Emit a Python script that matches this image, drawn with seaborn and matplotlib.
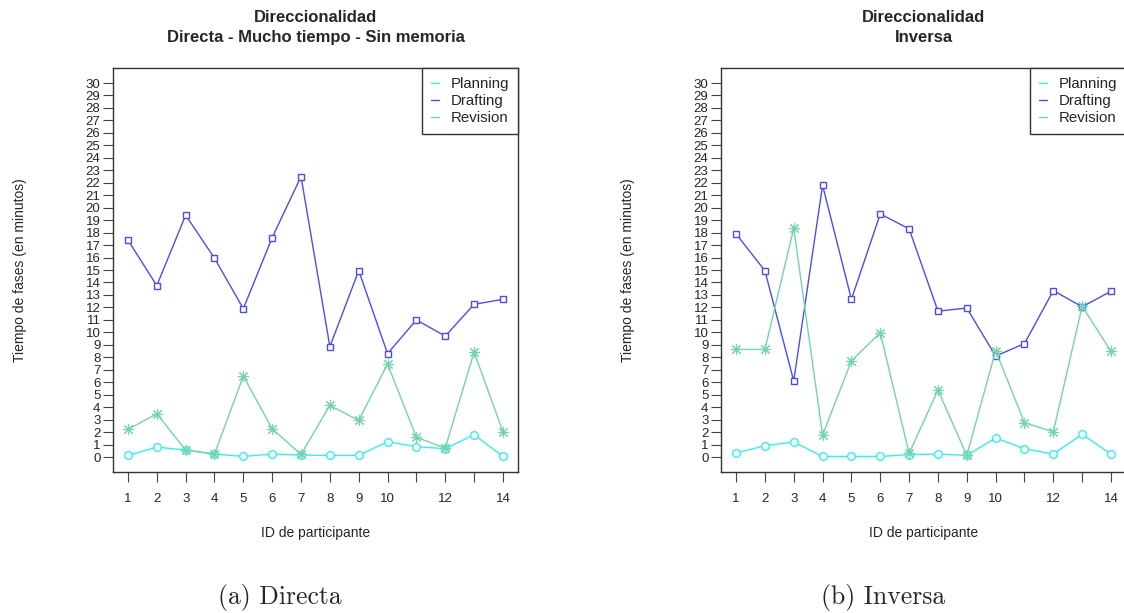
import numpy as np
import pandas as pd

import matplotlib
matplotlib.use("Agg")
import matplotlib.pyplot as plt
from matplotlib.lines import Line2D
import seaborn as sns

participants = list(range(1, 15))
x_tick_labels = ["1", "2", "3", "4", "5", "6", "7", "8", "9", "10", "", "12", "", "14"]

# (a) Directa
directa_planning = [0.13, 0.80, 0.56, 0.24, 0.05, 0.24, 0.16, 0.13, 0.13, 1.23, 0.83, 0.67, 1.79, 0.05]
directa_drafting = [17.4, 13.75, 19.4, 15.95, 11.9, 17.6, 22.5, 8.85, 14.95, 8.3, 11.0, 9.7, 12.25, 12.65]
directa_revision = [2.22, 3.47, 0.56, 0.24, 6.5, 2.27, 0.21, 4.14, 2.94, 7.46, 1.58, 0.72, 8.42, 2.03]

# (b) Inversa
inversa_planning = [0.32, 0.91, 1.2, 0.05, 0.05, 0.05, 0.19, 0.24, 0.13, 1.52, 0.67, 0.24, 1.82, 0.24]
inversa_drafting = [17.9, 14.95, 6.1, 21.8, 12.65, 19.5, 18.3, 11.7, 11.95, 8.1, 9.1, 13.35, 12.05, 13.3]
inversa_revision = [8.63, 8.63, 18.35, 1.76, 7.72, 9.97, 0.29, 5.37, 0.13, 8.53, 2.75, 2.03, 12.1, 8.47]

series_names = ["Planning", "Drafting", "Revision"]
series_colors = {"Planning": "#33F0F0", "Drafting": "#4C4CF2", "Revision": "#72D4AA"}
series_markers = {"Planning": "o", "Drafting": "s", "Revision": (8, 2, 0)}
series_msize = {"Planning": 5.5, "Drafting": 4.6, "Revision": 8}
series_mew = {"Planning": 1.0, "Drafting": 1.0, "Revision": 0.8}

panels = [
    ("Direccionalidad\nDirecta - Mucho tiempo - Sin memoria", "(a) Directa",
     [directa_planning, directa_drafting, directa_revision]),
    ("Direccionalidad\nInversa", "(b) Inversa",
     [inversa_planning, inversa_drafting, inversa_revision]),
]

sns.set_style("white")
plt.rcParams["font.family"] = ["Liberation Sans", "DejaVu Sans"]

fig = plt.figure(figsize=(11.24, 6.13), dpi=100)
ax_rects = [[0.1005, 0.230, 0.3603, 0.659], [0.6415, 0.230, 0.3603, 0.659]]
caption_x = [0.249, 0.786]

for i, (title, caption, values) in enumerate(panels):
    ax = fig.add_axes(ax_rects[i])
    for name, vals in zip(series_names, values):
        df = pd.DataFrame({"id": participants, "t": vals})
        c = series_colors[name]
        face = "white" if name != "Revision" else c
        sns.lineplot(data=df, x="id", y="t", ax=ax, color=c, linewidth=1.0,
                     marker=series_markers[name], markersize=series_msize[name],
                     markerfacecolor=face, markeredgecolor=c,
                     markeredgewidth=series_mew[name], legend=False)

    ax.set_xlim(1 - 0.52, 14 + 0.52)
    ax.set_ylim(-1.2, 31.2)
    ax.set_xticks(participants)
    ax.set_xticklabels(x_tick_labels)
    ax.set_yticks(range(0, 31))
    ax.set_yticklabels([str(v) for v in range(0, 31)])
    ax.tick_params(axis="x", direction="out", length=7, width=0.8, pad=8,
                   labelsize=9.5, color="#444444", bottom=True)
    ax.tick_params(axis="y", direction="out", length=7, width=0.8, pad=2,
                   labelsize=9.5, color="#444444", left=True)
    for s in ax.spines.values():
        s.set_visible(True)
        s.set_color("#333333")
        s.set_linewidth(1.0)

    ax.set_title(title, fontsize=12, fontweight="bold", pad=19, linespacing=1.4)
    ax.set_xlabel("ID de participante", fontsize=10, labelpad=15)
    ax.set_ylabel("Tiempo de fases (en minutos)", fontsize=10, labelpad=42)

    handles = [Line2D([0], [0], color=series_colors[n], linewidth=1.0) for n in series_names]
    leg = ax.legend(handles, series_names, loc="upper right", borderaxespad=0,
                    fontsize=10.8, handlelength=0.55, handletextpad=0.75,
                    labelspacing=0.2, borderpad=0.6, fancybox=False,
                    framealpha=1, edgecolor="#333333")
    leg.get_frame().set_linewidth(1.0)

    fig.text(caption_x[i], 0.026, caption, ha="center", va="center",
             fontsize=18.5, family="cmr10")

fig.savefig("out.png", dpi=100)
